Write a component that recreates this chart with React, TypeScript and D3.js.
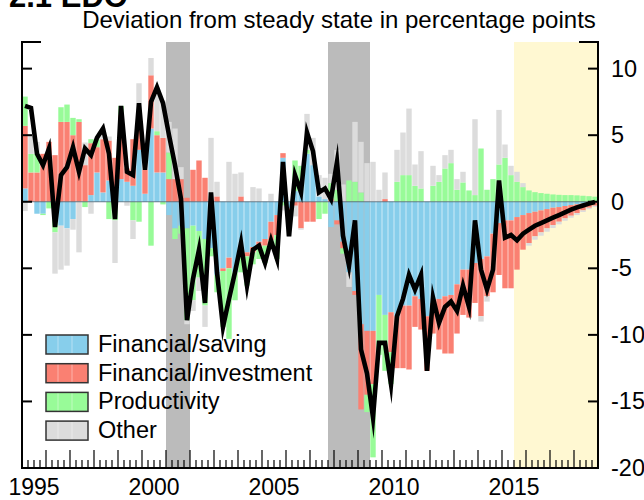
import React from "react";
import * as d3 from "d3";

// ---- categories ----
const years = [1995,1996,1997,1998,1999,2000,2001,2002,2003,2004,2005,2006,2007,2008,2009,2010,2011,2012,2013,2014,2015,2016,2017,2018];
const quarterNames = ["Q1", "Q2", "Q3", "Q4"];
const yearLabels = [1995, 2000, 2005, 2010, 2015];
const yTicks = [-20, -15, -10, -5, 0, 5, 10];
const recessionStart = ["2001Q1", "2007Q4"];
const recessionEnd = ["2001Q4", "2009Q2"];
const forecastStart = "2015Q3";
const forecastEnd = "2018Q4";

const seriesNames = ["Financial/saving", "Financial/investment", "Productivity", "Other"];
const seriesColors = ["#87CEEB", "#FA8072", "#98FB98", "#DCDCDC"];

// ---- series values (percentage points), quarterly 1995Q1..2018Q4 ----
const saving = [
  1.0, 0.0, -0.9, -0.9, 0.0, -1.0, -1.8, -2.0, -1.3, 0.0, 0.0, 0.5,
  2.2, 0.7, 1.6, 0.0, 1.7, 1.5, 1.2, 3.9, 0.6, 5.5, 2.2, 2.2,
  -1.0, -2.0, -1.8, -2.0, -1.8, -2.2, -2.8, -3.5, -5.5, -5.0, -4.2, -5.3,
  -3.5, -3.8, -3.4, -3.0, -2.8, -1.5, -1.0, 3.3, -0.5, 0.8, 1.0, 3.6,
  2.75, 0.4, 0.2, -1.9, -1.4, -3.0, -5.3, -6.7, -9.2, -9.7, -9.7, -7.0,
  -8.5, -8.3, -8.6, -7.8, -7.8, -7.1, -7.3, -8.6, -7.6, -7.3, -7.1, -7.0,
  -6.2, -5.1, -5.1, -4.6, -4.3, -4.1, -2.4, -1.6, -1.4, -1.4,
  -1.15, -1.0, -0.85, -0.75, -0.65, -0.55, -0.45, -0.4, -0.32, -0.25, -0.2, -0.15, -0.1, -0.05,
];
const investment = [
  4.7, 2.2, 2.2, 3.6, 4.5, 3.5, 6.0, 6.0, 5.0, 6.0, 2.75, 3.9,
  1.9, 4.0, 3.0, 3.3, 4.8, 1.0, 3.5, 2.0, 1.8, 4.0, 2.8, 2.6,
  1.7, 1.7, 1.7, 0.3, 2.4, 3.1, 1.8, 0.0, 0.4, -0.2, -0.8, 0.0,
  0.4, -0.3, -0.4, -0.4, -0.5, -1.4, -1.5, 0.35, -1.2, -0.3, -2.0, -1.5,
  -1.5, 0.0, 0.0, 0.2, -0.3, -0.5, 0.0, -0.3, -6.4, -4.8, -4.0, 0.0,
  0.2, -3.0, -3.9, -4.7, -4.8, -2.3, -2.3, -4.1, -2.3, -3.8, -4.3, -4.4,
  -3.7, -3.4, -3.6, -3.0, -4.3, -3.0, -4.4, -3.9, -5.1, -5.1,
  -3.95, -2.6, -2.25, -1.85, -1.65, -1.45, -1.3, -1.1, -0.93, -0.8, -0.65, -0.5, -0.35, -0.25,
];
const productivity = [
  2.2, 1.4, 1.4, -0.1, -0.5, -1.3, 1.1, 1.3, 1.3, 0.2, -0.4, 0.3,
  0.6, 0.0, -1.3, -1.4, 0.7, 0.0, -1.4, -1.5, 0.0, -3.3, 0.3, -0.2,
  2.0, -0.8, -0.6, -6.9, -5.6, -3.5, -5.0, -0.6, -1.3, -4.2, -5.3, -2.1,
  -1.8, -2.2, -0.9, -0.9, -1.3, -0.6, -1.8, -0.3, 0.0, 2.3, 1.7, 0.3,
  0.0, -1.3, -0.9, 1.2, 0.9, -0.4, 1.6, 1.5, 0.7, -1.3, -5.5, -4.5,
  -4.2, -2.4, 1.5, 2.0, 2.0, 1.2, 1.0, 0.0, 1.2, 1.5, 2.5, 2.9,
  0.9, 1.45, 0.85, 0.5, 4.0, 0.9, 1.7, 2.8, 3.3, 2.0,
  1.5, 1.1, 0.85, 0.72, 0.65, 0.6, 0.55, 0.52, 0.5, 0.5, 0.48, 0.45, 0.42, 0.38,
];
const other = [
  -0.7, 1.4, 0.9, 0.0, 0.0, -3.1, -3.3, -2.8, -0.8, -3.8, 1.7, -0.9,
  0.1, 0.8, 0.3, -3.2, 0.0, -0.3, -1.4, 3.0, 0.0, 1.3, 3.3, 2.8,
  2.3, 3.8, 0.9, -0.3, -0.8, -1.0, -1.6, 4.8, 1.1, 0.0, 3.0, 2.1,
  1.8, 0.0, 1.1, 1.0, 0.0, 0.6, 0.0, -0.35, -0.9, -0.8, -0.1, 2.7,
  2.05, 1.6, 1.6, 0.7, 3.0, 1.3, -1.1, 4.5, 3.8, 2.9, 3.0, 0.9,
  2.0, 0.0, 2.4, 3.2, 5.0, 1.6, 2.8, 0.0, 1.5, 0.5, 1.0, 1.0,
  0.8, 0.8, 0.0, 5.7, -0.4, -0.4, 0.0, 4.1, 1.0, 0.7,
  0.75, 0.3, -0.2, -0.25, -0.25, -0.25, -0.22, -0.2, -0.18, -0.15, -0.15, -0.12, -0.1, -0.1,
];
const total = [
  7.2, 7.05, 3.6, 2.75, 4.0, -1.9, 2.0, 2.6, 4.1, 2.25, 4.0, 3.5,
  4.8, 5.5, 3.6, -1.3, 7.2, 2.25, 2.0, 7.4, 2.4, 7.5, 8.6, 7.4,
  5.0, 2.75, 0.2, -8.9, -5.8, -3.6, -7.6, 0.7, -5.3, -9.4, -7.3, -5.3,
  -3.1, -6.3, -3.6, -3.3, -4.6, -2.9, -4.3, 3.0, -2.6, 2.0, 0.7, 5.2,
  3.8, 0.7, 1.0, 0.2, 3.0, -2.55, -4.8, -1.4, -11.1, -12.9, -16.2, -10.6,
  -10.6, -13.7, -8.6, -7.3, -5.5, -6.6, -5.5, -12.7, -7.2, -9.1, -7.9, -7.5,
  -8.2, -6.3, -7.9, -1.4, -5.1, -6.6, -5.1, 1.6, -2.7, -2.5,
  -2.9, -2.4, -2.1, -1.8, -1.6, -1.4, -1.2, -1.0, -0.8, -0.6, -0.42, -0.28, -0.14, -0.02,
];

const keys = ["saving", "investment", "productivity", "other"];

const W = 644, H = 500;
const L = 22, R = 598, T = 42, B = 468;
const FONT = "'Liberation Sans', Arial, Helvetica, sans-serif";
const FS = 23.5;

export default function App() {
  const quarters: string[] = [];
  years.forEach((yr) => quarterNames.forEach((q) => quarters.push(`${yr}${q}`)));
  const rows = quarters.map((q, i) => ({
    q,
    saving: saving[i],
    investment: investment[i],
    productivity: productivity[i],
    other: other[i],
    total: total[i],
  }));

  const x = d3.scaleBand<string>().domain(quarters).range([L, R]).paddingInner(0.1).paddingOuter(0.05);
  const step = x.step();
  const y = d3.scaleLinear().domain([-20, 12]).range([B, T]);

  const stacked = d3.stack<any>().keys(keys).offset(d3.stackOffsetDiverging)(rows);

  const line = d3
    .line<any>()
    .x((d) => (x(d.q) as number) + x.bandwidth() / 2)
    .y((d) => y(d.total));

  const bandStart = (q: string) => (x(q) as number) - (step - x.bandwidth()) / 2;
  const bandEnd = (q: string) => bandStart(q) + step;

  return (
    <svg width={W} height={H} style={{ position: "absolute", left: 0, top: 0, display: "block" }} fontFamily={FONT}>
      <rect x={0} y={0} width={W} height={H} fill="#fff" />
      {/* header text, clipped at the top edge as in the reference */}
      <text x={9} y={7} fontSize={31} fontWeight="bold" fill="#000">2.1 EDO</text>
      <text x={339} y={28} fontSize={24} textAnchor="middle" fill="#000">
        Deviation from steady state in percentage points
      </text>

      {/* recession shading */}
      {recessionStart.map((s, i) => (
        <rect key={"rec" + i} x={bandStart(s)} y={T} width={bandEnd(recessionEnd[i]) - bandStart(s)} height={B - T} fill="#BBBBBB" />
      ))}
      {/* forecast shading */}
      <rect x={bandStart(forecastStart)} y={T} width={bandEnd(forecastEnd) - bandStart(forecastStart)} height={B - T} fill="#FFF8D2" />

      {/* bars */}
      {stacked.map((s, si) => (
        <g key={s.key} fill={seriesColors[si]}>
          {s.map((d: any, i: number) => (
            <rect
              key={i}
              x={x(d.data.q)}
              width={x.bandwidth()}
              y={y(Math.max(d[0], d[1]))}
              height={Math.abs(y(d[0]) - y(d[1]))}
            />
          ))}
        </g>
      ))}

      {/* zero line */}
      <line x1={L} x2={R} y1={y(0)} y2={y(0)} stroke="#4a6070" strokeWidth={0.8} />

      {/* total line */}
      <path d={line(rows) || ""} fill="none" stroke="#000" strokeWidth={4.6} strokeLinejoin="miter" strokeMiterlimit={10} />

      {/* frame */}
      <line x1={L} x2={L} y1={T} y2={B} stroke="#000" strokeWidth={2} />
      <line x1={R} x2={R} y1={T} y2={B} stroke="#000" strokeWidth={2} />
      <line x1={L - 1} x2={R + 1} y1={B} y2={B} stroke="#000" strokeWidth={2} />
      <line x1={L - 1} x2={L + 19} y1={T} y2={T} stroke="#000" strokeWidth={2} />
      <line x1={R - 19} x2={R + 1} y1={T} y2={T} stroke="#000" strokeWidth={2} />

      {/* y ticks */}
      {yTicks.map((t) => (
        <g key={"yt" + t}>
          <line x1={L} x2={L + 10} y1={y(t)} y2={y(t)} stroke="#000" strokeWidth={2} />
          <line x1={R - 10} x2={R} y1={y(t)} y2={y(t)} stroke="#000" strokeWidth={2} />
          <text x={611} y={y(t) + 8} fontSize={FS} fill="#000">{t}</text>
        </g>
      ))}

      {/* x ticks */}
      {quarters.map((q, i) => (
        <line
          key={"xt" + q}
          x1={bandStart(q)}
          x2={bandStart(q)}
          y1={B}
          y2={B - (i % 4 === 0 ? 18 : 8)}
          stroke="#000"
          strokeWidth={1.2}
        />
      ))}
      {yearLabels.map((yr) => (
        <text key={"xl" + yr} x={bandStart(`${yr}Q1`) + step * 2} y={495} fontSize={23} textAnchor="middle" fill="#000">
          {yr}
        </text>
      ))}

      {/* legend */}
      {seriesNames.map((n, i) => (
        <g key={"lg" + i} transform={`translate(46, ${335 + i * 28.7})`}>
          <rect x={0} y={0} width={42} height={19} fill={seriesColors[i]} stroke="#333" strokeWidth={1.5} />
          <line x1={12} x2={12} y1={1} y2={18} stroke="#fff" strokeOpacity={0.5} strokeWidth={0.8} />
          <line x1={26} x2={26} y1={1} y2={18} stroke="#fff" strokeOpacity={0.5} strokeWidth={0.8} />
          <text x={52} y={17} fontSize={FS} fill="#000">{n}</text>
        </g>
      ))}
    </svg>
  );
}
